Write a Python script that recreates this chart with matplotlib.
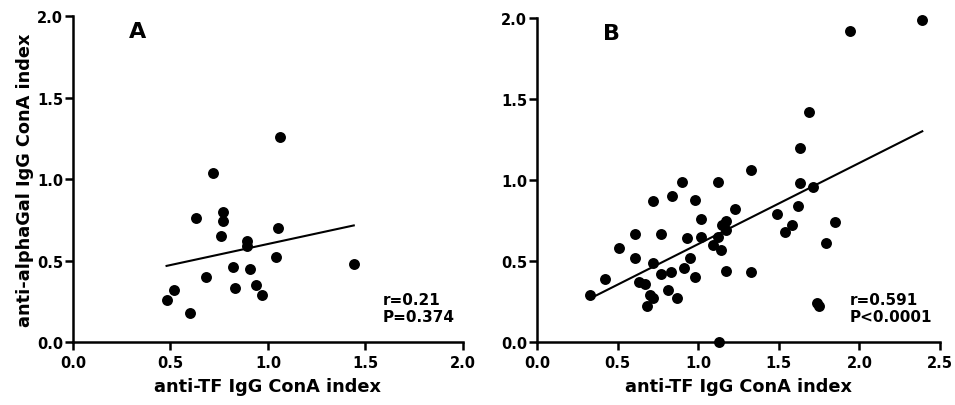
import numpy as np
import matplotlib.pyplot as plt

plt.rcParams['font.family'] = ['DejaVu Sans']
plt.rcParams['font.weight'] = 'bold'

# Panel A data
tf_a = [0.48, 0.52, 0.60, 0.63, 0.68, 0.72, 0.76, 0.77, 0.77, 0.82,
        0.83, 0.89, 0.89, 0.91, 0.94, 0.97, 1.04, 1.05, 1.06, 1.44]
gal_a = [0.26, 0.32, 0.18, 0.76, 0.40, 1.04, 0.65, 0.80, 0.74, 0.46,
         0.33, 0.62, 0.59, 0.45, 0.35, 0.29, 0.52, 0.70, 1.26, 0.48]

# Panel B data
tf_b = [0.33, 0.42, 0.51, 0.61, 0.61, 0.63, 0.67, 0.68, 0.70, 0.72,
        0.72, 0.72, 0.77, 0.77, 0.83, 0.84, 0.81, 0.87, 0.90, 0.91,
        0.93, 0.95, 0.98, 0.98, 1.02, 1.02, 1.09, 1.12, 1.12, 1.14,
        1.15, 1.17, 1.17, 1.17, 1.23, 1.13, 1.33, 1.33, 1.49, 1.54,
        1.58, 1.62, 1.63, 1.63, 1.69, 1.71, 1.74, 1.75, 1.79, 1.85,
        1.94, 2.39]
gal_b = [0.29, 0.39, 0.58, 0.67, 0.52, 0.37, 0.36, 0.22, 0.29, 0.87,
         0.49, 0.27, 0.67, 0.42, 0.43, 0.90, 0.32, 0.27, 0.99, 0.46,
         0.64, 0.52, 0.88, 0.40, 0.76, 0.65, 0.60, 0.99, 0.65, 0.57,
         0.72, 0.75, 0.69, 0.44, 0.82, 0.00, 1.06, 0.43, 0.79, 0.68,
         0.72, 0.84, 0.98, 1.20, 1.42, 0.96, 0.24, 0.22, 0.61, 0.74,
         1.92, 1.99]

stats_a = 'r=0.21\nP=0.374'
stats_b = 'r=0.591\nP<0.0001'

fig = plt.figure(figsize=(9.55, 4.06), dpi=100)
ax_a = fig.add_axes([0.0764, 0.155, 0.4084, 0.803])
ax_b = fig.add_axes([0.5623, 0.155, 0.4220, 0.798])


def draw_panel(ax, x, y, xmax, letter, letter_x, stats, stats_x):
    x = np.array(x)
    y = np.array(y)
    ax.scatter(x, y, s=62, color='black', zorder=3, clip_on=False, linewidths=0)
    k, b = np.polyfit(x, y, 1)
    xs = np.array([x.min(), x.max()])
    ax.plot(xs, k * xs + b, color='black', lw=1.5)
    ax.set_xlim(0, xmax)
    ax.set_ylim(0, 2.0)
    ax.set_xticks(np.arange(0, xmax + 0.01, 0.5))
    ax.set_yticks(np.arange(0, 2.01, 0.5))
    ax.xaxis.set_major_formatter(plt.FormatStrFormatter('%.1f'))
    ax.yaxis.set_major_formatter(plt.FormatStrFormatter('%.1f'))
    for s in ['top', 'right']:
        ax.spines[s].set_visible(False)
    for s in ['left', 'bottom']:
        ax.spines[s].set_linewidth(1.8)
    ax.tick_params(width=1.8, length=5.5, labelsize=10.5)
    ax.tick_params(axis='y', pad=1.5)
    ax.tick_params(axis='x', pad=4)
    ax.set_xlabel('anti-TF IgG ConA index', fontsize=12.8, fontweight='bold', labelpad=5)
    ax.text(letter_x, 1.91, letter, fontsize=16, fontweight='bold', ha='center', va='center')
    ax.text(stats_x, 0.21, stats, fontsize=11, fontweight='bold', ha='left', va='center',
            linespacing=1.15)


draw_panel(ax_a, tf_a, gal_a, 2.0, 'A', 0.33, stats_a, 1.59)
draw_panel(ax_b, tf_b, gal_b, 2.5, 'B', 0.46, stats_b, 1.94)
ax_a.set_ylabel('anti-alphaGal IgG ConA index', fontsize=12.8, fontweight='bold', labelpad=2)

fig.savefig('out.png', dpi=100)
